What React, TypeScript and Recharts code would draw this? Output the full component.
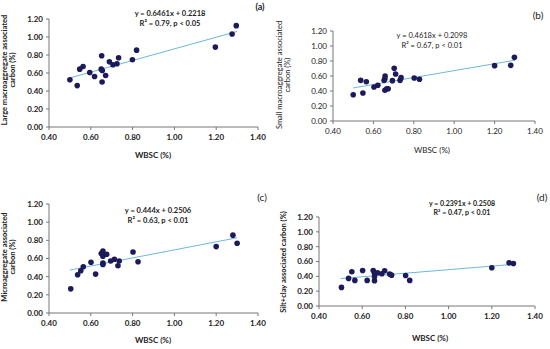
import React from "react";
import { ScatterChart, Scatter, XAxis, YAxis } from "recharts";

// WBSC (%) on x, associated carbon (%) on y
const wbscA = [0.5, 0.535, 0.547, 0.563, 0.595, 0.618, 0.652, 0.65, 0.655, 0.654, 0.671, 0.689, 0.706, 0.725, 0.733, 0.799, 0.819, 1.196, 1.276, 1.296];
const carbonA = [0.524, 0.46, 0.643, 0.672, 0.605, 0.561, 0.791, 0.643, 0.628, 0.5, 0.572, 0.724, 0.691, 0.702, 0.769, 0.747, 0.854, 0.888, 1.033, 1.126];

const wbscB = [0.5, 0.537, 0.548, 0.565, 0.603, 0.622, 0.653, 0.658, 0.657, 0.657, 0.666, 0.673, 0.694, 0.703, 0.71, 0.732, 0.737, 0.802, 0.828, 1.2, 1.28, 1.298];
const carbonB = [0.351, 0.542, 0.373, 0.524, 0.453, 0.476, 0.542, 0.6, 0.564, 0.409, 0.431, 0.431, 0.538, 0.702, 0.627, 0.542, 0.578, 0.573, 0.556, 0.738, 0.742, 0.849];

const wbscC = [0.504, 0.537, 0.552, 0.564, 0.601, 0.623, 0.65, 0.658, 0.658, 0.658, 0.658, 0.676, 0.695, 0.713, 0.73, 0.736, 0.802, 0.826, 1.2, 1.28, 1.3];
const carbonC = [0.266, 0.421, 0.465, 0.51, 0.558, 0.428, 0.654, 0.683, 0.624, 0.55, 0.535, 0.646, 0.572, 0.591, 0.521, 0.572, 0.672, 0.565, 0.731, 0.857, 0.768];

const wbscD = [0.504, 0.537, 0.552, 0.566, 0.602, 0.623, 0.651, 0.657, 0.657, 0.657, 0.671, 0.691, 0.704, 0.727, 0.736, 0.801, 0.82, 1.2, 1.28, 1.3];
const carbonD = [0.251, 0.372, 0.461, 0.345, 0.479, 0.345, 0.479, 0.439, 0.394, 0.34, 0.448, 0.434, 0.475, 0.43, 0.416, 0.412, 0.345, 0.515, 0.582, 0.573];

// trendline end points (x = 0.50 and 1.30, from the printed equations)
const trendA = [{ x: 0.5, y: 0.545 }, { x: 1.3, y: 1.062 }];
const trendB = [{ x: 0.5, y: 0.441 }, { x: 1.3, y: 0.81 }];
const trendC = [{ x: 0.5, y: 0.473 }, { x: 1.3, y: 0.828 }];
const trendD = [{ x: 0.5, y: 0.37 }, { x: 1.3, y: 0.562 }];

const xTicks = [0.4, 0.6, 0.8, 1.0, 1.2, 1.4];
const yTicks = [0, 0.2, 0.4, 0.6, 0.8, 1.0, 1.2];

const W = 550;
const H = 349;
const FONT = "Lato, 'Open Sans', sans-serif";
const DOT = "#1c1a5a";
const TREND = "#6cb8dc";

const toPoints = (xs: number[], ys: number[]) => xs.map((x, i) => ({ x, y: ys[i] }));

type Box = { left: number; top: number; right: number; bottom: number };

function Panel({ box, points, trend, bold }: { box: Box; points: { x: number; y: number }[]; trend: { x: number; y: number }[]; bold: boolean }) {
  const yW = 32;
  const xH = 22;
  const tick = { fontSize: 8, fill: "#222", fontFamily: FONT, fontWeight: bold ? 700 : 400 };
  return (
    <div style={{ position: "absolute", left: 0, top: 0 }}>
      <ScatterChart
        width={W}
        height={H}
        margin={{ left: box.left - yW, top: box.top, right: W - box.right, bottom: H - box.bottom - xH }}
      >
        <XAxis
          type="number"
          dataKey="x"
          domain={[0.4, 1.4]}
          ticks={xTicks}
          tickFormatter={(v: number) => v.toFixed(2)}
          tick={tick}
          tickSize={3}
          tickMargin={4}
          height={xH}
          stroke="#777"
          allowDataOverflow
        />
        <YAxis
          type="number"
          dataKey="y"
          domain={[0, 1.2]}
          ticks={yTicks}
          tickFormatter={(v: number) => v.toFixed(2)}
          tick={tick}
          tickSize={3}
          tickMargin={3}
          width={yW}
          stroke="#777"
          allowDataOverflow
        />
        <Scatter
          data={trend}
          line={{ stroke: TREND, strokeWidth: 1 }}
          lineType="joint"
          shape={() => <g />}
          isAnimationActive={false}
        />
        <Scatter data={points} fill={DOT} shape={(p: any) => <circle cx={p.cx} cy={p.cy} r={2.8} fill={DOT} />} isAnimationActive={false} />
      </ScatterChart>
    </div>
  );
}

const txt = (left: number, top: number, text: React.ReactNode, extra: React.CSSProperties = {}) => (
  <div
    style={{
      position: "absolute",
      left,
      top,
      transform: "translate(-50%, -50%)",
      fontFamily: FONT,
      fontSize: 7.5,
      color: "#222",
      whiteSpace: "nowrap",
      textAlign: "center",
      lineHeight: "8px",
      ...extra,
    }}
  >
    {text}
  </div>
);

const ylab = (left: number, top: number, text: React.ReactNode, bold: boolean) =>
  txt(left, top, text, { transform: "translate(-50%, -50%) rotate(-90deg)", fontWeight: bold ? 700 : 400 });

export default function App() {
  return (
    <div style={{ position: "absolute", left: 0, top: 0, width: W, height: H, background: "#fff", overflow: "hidden" }}>
      <Panel box={{ left: 49, top: 19, right: 258, bottom: 127 }} points={toPoints(wbscA, carbonA)} trend={trendA} bold />
      <Panel box={{ left: 333, top: 31, right: 535, bottom: 121 }} points={toPoints(wbscB, carbonB)} trend={trendB} bold={false} />
      <Panel box={{ left: 49, top: 204, right: 258, bottom: 313 }} points={toPoints(wbscC, carbonC)} trend={trendC} bold />
      <Panel box={{ left: 319, top: 217, right: 535, bottom: 306 }} points={toPoints(wbscD, carbonD)} trend={trendD} bold />

      {txt(170, 19, <>y = 0.6461x + 0.2218<br />R² = 0.79, p &lt; 0.05</>, { fontWeight: 700, lineHeight: "10px" })}
      {txt(260, 7, "(a)", { fontWeight: 700, fontSize: 9 })}
      {txt(153, 155, "WBSC (%)", { fontWeight: 700, fontSize: 8 })}
      {ylab(9, 70, <>Large macroaggregate associated<br />carbon (%)</>, true)}

      {txt(432, 41, <>y = 0.4618x + 0.2098<br />R² = 0.67, p &lt; 0.01</>, { lineHeight: "10px" })}
      {txt(538, 15, "(b)", { fontSize: 10 })}
      {txt(432, 150, "WBSC (%)", { fontSize: 8 })}
      {ylab(284, 75, <>Small macroaggregate associated<br />carbon (%)</>, false)}

      {txt(158, 216, <>y = 0.444x + 0.2506<br />R² = 0.63, p &lt; 0.01</>, { fontWeight: 700, lineHeight: "10px" })}
      {txt(262, 197, "(c)", { fontSize: 10 })}
      {txt(153, 340, "WBSC (%)", { fontWeight: 700, fontSize: 8 })}
      {ylab(9, 257, <>Microaggregate associated<br />carbon (%)</>, true)}

      {txt(462, 208, <>y = 0.2391x + 0.2508<br />R² = 0.47, p &lt; 0.01</>, { fontWeight: 700, fontSize: 7, lineHeight: "9px" })}
      {txt(542, 197, "(d)", { fontSize: 10 })}
      {txt(430, 338, "WBSC (%)", { fontWeight: 700, fontSize: 8 })}
      {ylab(284, 262, "Silt+clay associated carbon (%)", true)}
    </div>
  );
}
